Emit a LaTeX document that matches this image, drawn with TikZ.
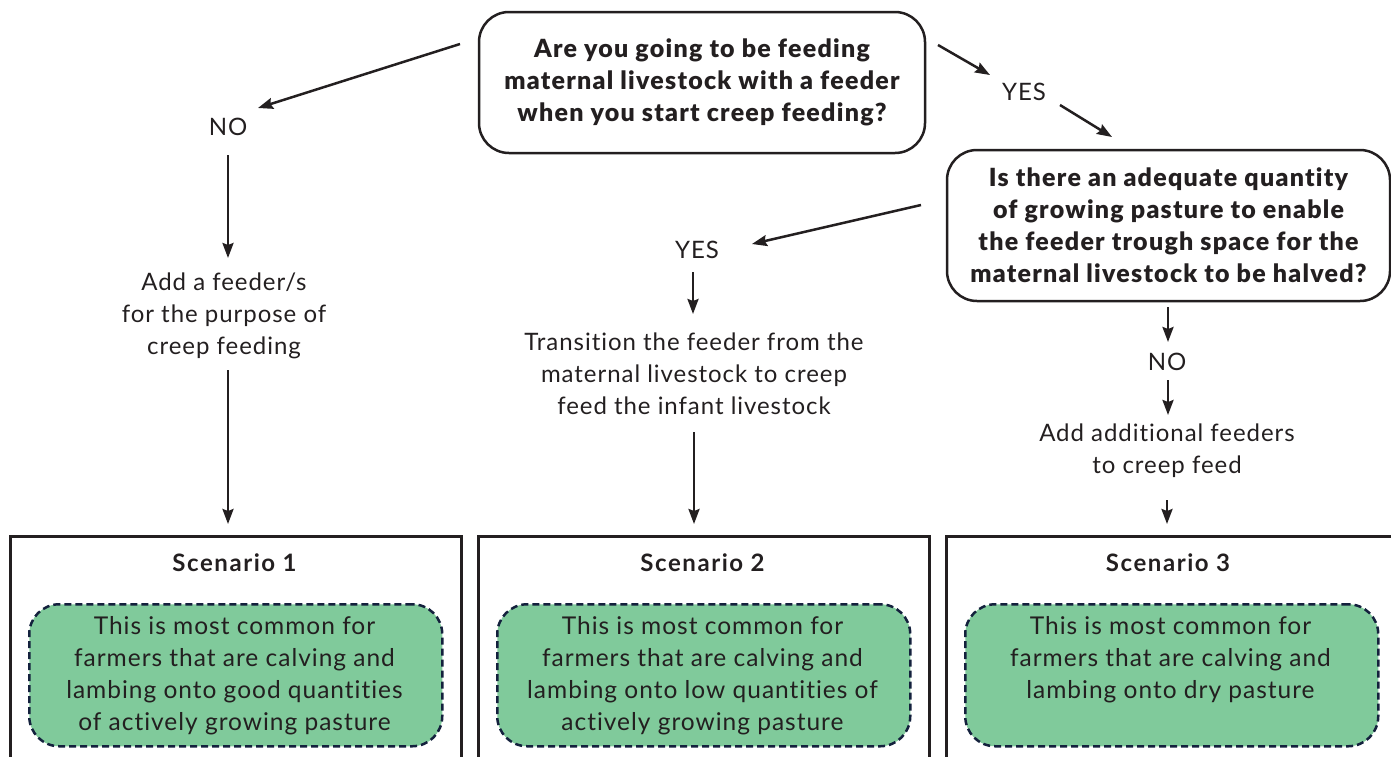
\documentclass[tikz,border=0pt]{standalone}
\usepackage{fontspec}
\setmainfont{Lato}
\newfontfamily\regf[LetterSpace=4,Ligatures=NoCommon]{Lato}
\newfontfamily\blkf[LetterSpace=5,Ligatures=NoCommon]{Lato Black}
\newfontfamily\bldf[LetterSpace=6.5,Ligatures=NoCommon]{Lato Bold}
\usetikzlibrary{arrows.meta}
\definecolor{txt}{HTML}{231F20}
\definecolor{grn}{HTML}{80CA9B}
\definecolor{navy}{HTML}{14213D}
\begin{document}
\begin{tikzpicture}[x=1pt,y=-1pt,
  qbox/.style={draw=txt, line width=2.5pt, rounded corners=30pt, align=center,
    font=\blkf\fontsize{25}{32}\selectfont, text=txt, inner sep=0pt},
  lbl/.style={align=center, font=\regf\fontsize{24}{32}\selectfont, text=txt, inner sep=0pt},
  ttl/.style={align=center, font=\bldf\fontsize{24}{26}\selectfont, text=txt, inner sep=0pt},
  sbox/.style={draw=txt, line width=2.5pt, minimum width=451pt, minimum height=240pt, anchor=north west, inner sep=0pt},
  gbox/.style={draw=navy, fill=grn, line width=2.5pt, dash pattern=on 7pt off 4pt,
    rounded corners=30pt, minimum width=413pt, minimum height=142pt, anchor=north west, inner sep=0pt},
  gtxt/.style={align=center, font=\regf\fontsize{24.5}{32}\selectfont, text=txt, inner sep=0pt},
  arr/.style={draw=txt, line width=2.5pt, -{Stealth[length=15pt,width=11pt,inset=2pt]}}
]
\useasboundingbox (0,0) rectangle (1391,756);
% question boxes
\node[qbox, minimum width=446pt, minimum height=141pt] (q1) at (702,82.5)
  {Are you going to be feeding\\maternal livestock with a feeder\\when you start creep feeding?};
\node[qbox, minimum width=443pt, minimum height=151pt] (q2) at (1168.5,225.5)
  {Is there an adequate quantity\\of growing pasture to enable\\the feeder trough space for the\\maternal livestock to be halved?};
% labels
\node[lbl] (no1) at (228,127) {NO};
\node[lbl] (yes1) at (1024,92) {YES};
\node[lbl] (yes2) at (697,250) {YES};
\node[lbl] (no2) at (1167,362) {NO};
\node[lbl] (add1) at (224,316) {Add a feeder/s\\for the purpose of\\creep feeding};
\node[lbl] (trans) at (694,374) {Transition the feeder from the\\maternal livestock to creep\\feed the infant livestock};
\node[lbl] (add3) at (1167,451) {Add additional feeders\\to creep feed};
% scenario boxes
\node[sbox] (s1) at (9,535) {};
\node[sbox] (s2) at (477,535) {};
\node[sbox] (s3) at (945,535) {};
\node[ttl] (t1) at (234.5,563) {Scenario 1};
\node[ttl] (t2) at (702.5,563) {Scenario 2};
\node[ttl] (t3) at (1168,563) {Scenario 3};
\node[gbox] (g1) at (28,603) {};
\node[gbox] (g2) at (496,603) {};
\node[gbox] (g3) at (964,603) {};
\node[gtxt] (x1) at (234.5,675.5) {This is most common for\\farmers that are calving and\\lambing onto good quantities\\of actively growing pasture};
\node[gtxt] (x2) at (702.5,675.5) {This is most common for\\farmers that are calving and\\lambing onto low quantities of\\actively growing pasture};
\node[gtxt] (x3) at (1170.5,660) {This is most common for\\farmers that are calving and\\lambing onto dry pasture};
% connector end points
\coordinate (q1w) at (460,44);   \coordinate (no1e) at (258,108);
\coordinate (q1e) at (938,45);   \coordinate (yes1w) at (990,75);
\coordinate (yes1e) at (1060,105); \coordinate (q2n) at (1112,137);
\coordinate (q2w) at (921,205);  \coordinate (yes2e) at (752,244);
\coordinate (no1s) at (228,155); \coordinate (add1n) at (228,258);
\coordinate (add1s) at (228,370); \coordinate (s1n) at (228,524);
\coordinate (yes2s) at (693,272); \coordinate (transn) at (693,314);
\coordinate (transs) at (694,432); \coordinate (s2n) at (694,524);
\coordinate (q2s) at (1168,307); \coordinate (no2n) at (1168,342);
\coordinate (no2s) at (1168,380); \coordinate (add3n) at (1168,415);
\coordinate (add3s) at (1167,500); \coordinate (s3n) at (1167,524);
% connectors
\draw[arr] (q1w) -- (no1e);
\draw[arr] (q1e) -- (yes1w);
\draw[arr] (yes1e) -- (q2n);
\draw[arr] (q2w) -- (yes2e);
\draw[arr] (no1s) -- (add1n);
\draw[arr] (add1s) -- (s1n);
\draw[arr] (yes2s) -- (transn);
\draw[arr] (transs) -- (s2n);
\draw[arr] (q2s) -- (no2n);
\draw[arr] (no2s) -- (add3n);
\draw[arr] (add3s) -- (s3n);
\end{tikzpicture}
\end{document}
